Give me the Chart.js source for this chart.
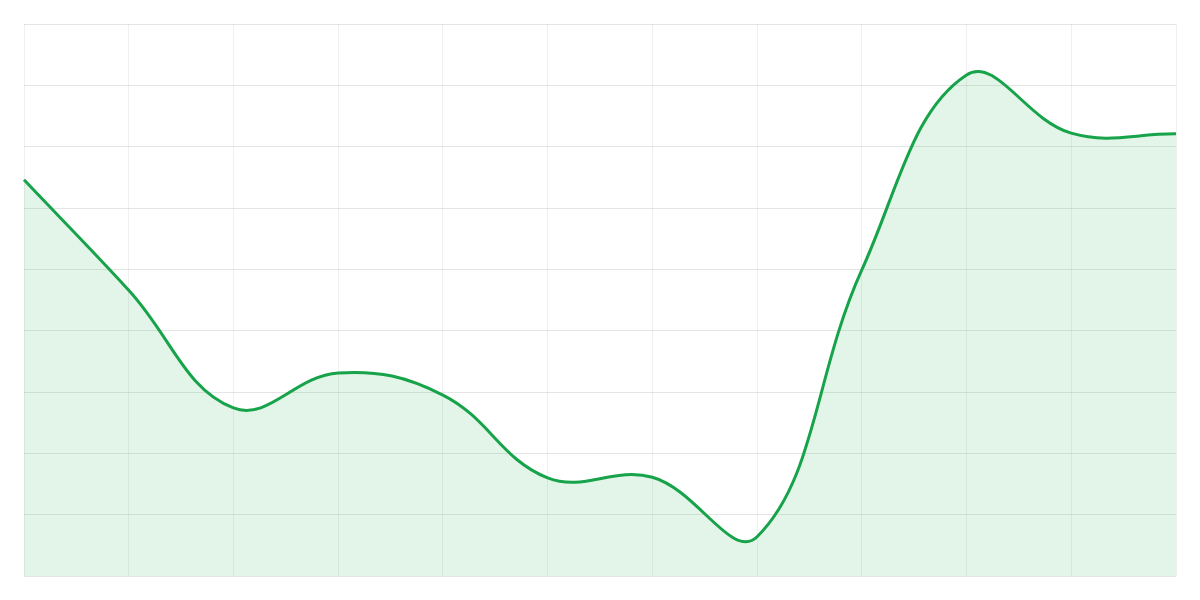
<!DOCTYPE html>
<html>
<head>
<meta charset="utf-8">
<script src="https://cdn.jsdelivr.net/npm/chart.js@4/dist/chart.umd.min.js"></script>
<style>
  html, body { margin: 0; padding: 0; background: #fff; }
  #wrap { width: 1200px; height: 600px; }
</style>
</head>
<body>
<div id="wrap"><canvas id="chart"></canvas></div>
<script>
// Daten
const labels = ['1', '2', '3', '4', '5', '6', '7', '8', '9', '10', '11', '12'];
const values = [64.6, 46.6, 27.4, 33.1, 29.5, 16.0, 16.1, 6.4, 49.9, 81.7, 72.2, 72.1];
const yMin = 0;
const yMax = 90;
const yStep = 10;

const ctx = document.getElementById('chart').getContext('2d');

new Chart(ctx, {
    type: 'line',
    data: {
        labels: labels,
        datasets: [{
            data: values,
            borderColor: '#16a34a',
            backgroundColor: 'rgba(22, 163, 74, 0.12)',
            borderWidth: 3,
            tension: 0.4,
            fill: true,
            pointRadius: 0
        }]
    },
    options: {
        responsive: true,
        maintainAspectRatio: false,
        animation: false,
        layout: { padding: 24 },
        plugins: {
            legend: { display: false },
            tooltip: { enabled: false }
        },
        scales: {
            x: {
                ticks: { display: false },
                grid: { color: 'rgba(0,0,0,0.06)', drawTicks: false },
                border: { display: false }
            },
            y: {
                min: yMin,
                max: yMax,
                ticks: { display: false, stepSize: yStep },
                grid: { color: 'rgba(0,0,0,0.1)', drawTicks: false },
                border: { display: false }
            }
        }
    }
});
</script>
</body>
</html>
